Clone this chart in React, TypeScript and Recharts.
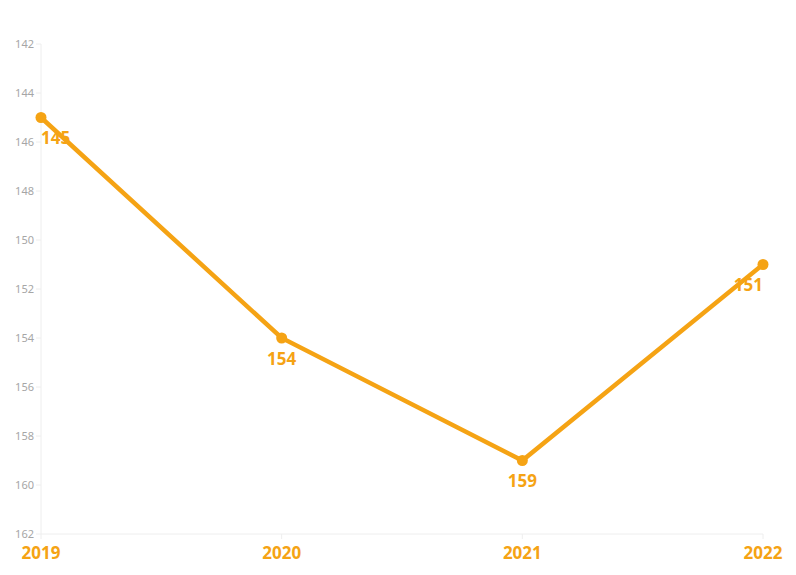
import { LineChart, Line, XAxis, YAxis } from 'recharts';

const years = ['2019', '2020', '2021', '2022'];
const values = [145, 154, 159, 151];
const yTicks = [142, 144, 146, 148, 150, 152, 154, 156, 158, 160, 162];

const ORANGE = '#f5a314';
const FONT = '"Noto Sans", "Open Sans", sans-serif';

const data = years.map((year, i) => ({ year, value: values[i] }));

const PointLabel = (props: any) => {
  const { x, y, value, index } = props;
  let anchor = 'middle';
  if (index === 0) anchor = 'start';
  if (index === data.length - 1) anchor = 'end';
  return (
    <text
      x={x}
      y={y + 20}
      textAnchor={anchor}
      dominantBaseline="central"
      fill={ORANGE}
      fontSize={17}
      fontWeight={700}
      fontFamily={FONT}
    >
      {value}
    </text>
  );
};

export default function App() {
  return (
    <div style={{ position: 'fixed', left: 0, top: 0, width: 796, height: 575, background: '#fff' }}>
      <LineChart width={796} height={575} data={data} margin={{ top: 44, right: 33, left: 0, bottom: 0 }}>
        <XAxis
          dataKey="year"
          height={41}
          axisLine={{ stroke: '#eeeeee' }}
          tickLine={{ stroke: '#eeeeee' }}
          tickSize={5}
          tickMargin={8}
          tick={{ fill: ORANGE, fontSize: 17, fontWeight: 700, fontFamily: FONT }}
          interval={0}
        />
        <YAxis
          width={41}
          reversed
          domain={[142, 162]}
          ticks={yTicks}
          interval={0}
          axisLine={{ stroke: '#eeeeee' }}
          tickLine={{ stroke: '#eeeeee' }}
          tickSize={5}
          tick={{ fill: '#a6a6a6', fontSize: 11, fontFamily: FONT }}
        />
        <Line
          type="linear"
          dataKey="value"
          stroke={ORANGE}
          strokeWidth={4.5}
          dot={{ r: 5.5, fill: ORANGE, stroke: ORANGE, strokeWidth: 0 }}
          activeDot={false}
          isAnimationActive={false}
          label={<PointLabel />}
        />
      </LineChart>
    </div>
  );
}
